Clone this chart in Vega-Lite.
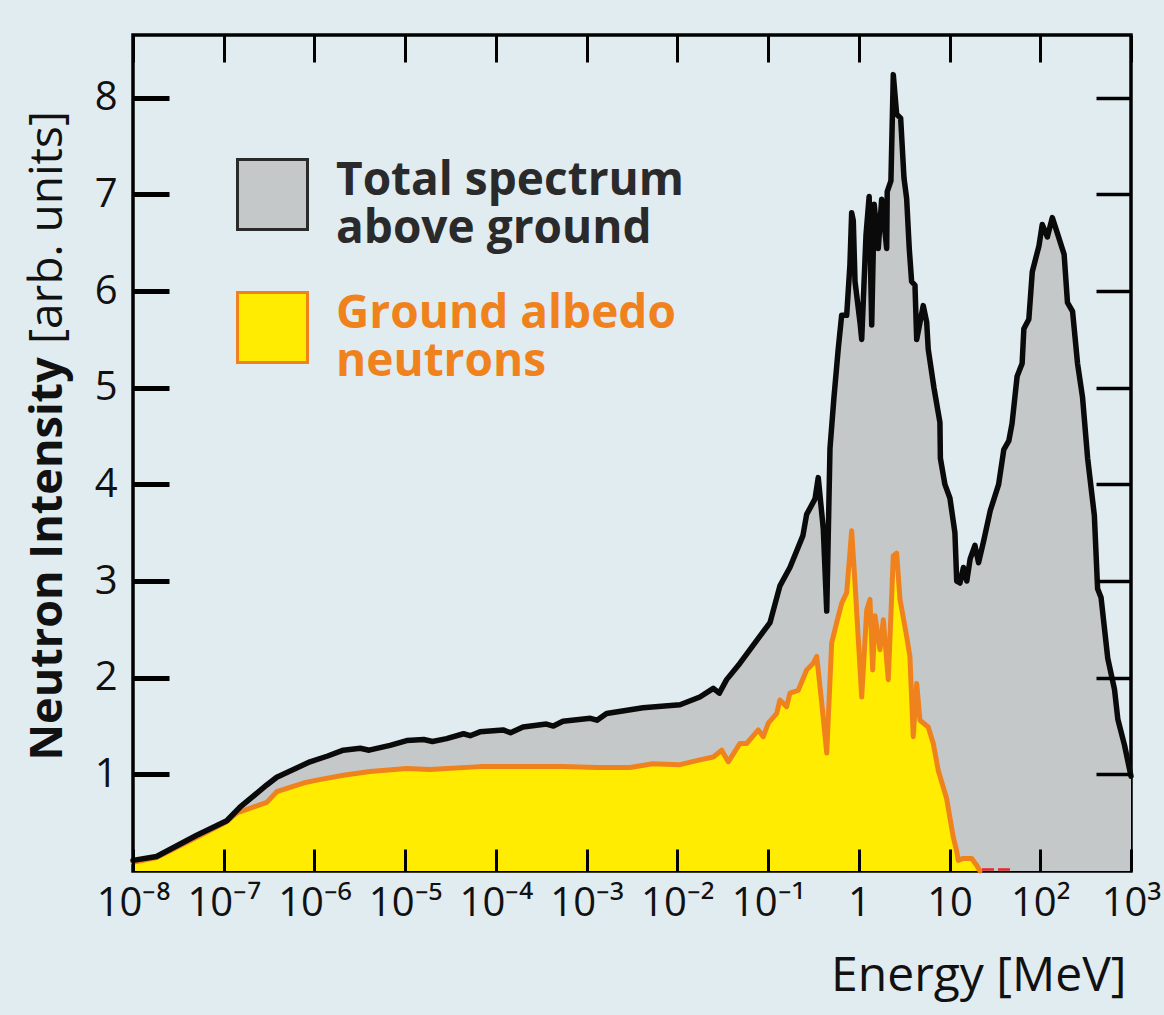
{
  "$schema": "https://vega.github.io/schema/vega-lite/v6.json",
  "width": 998,
  "height": 836,
  "autosize": {"type": "none"},
  "padding": {"left": 133, "top": 35, "right": 33, "bottom": 144},
  "background": "#e1ecf1",
  "config": {
    "font": "Open Sans",
    "view": {"stroke": "#000000", "strokeWidth": 3.5, "fill": null},
    "axis": {"grid": false, "domain": false}
  },
  "datasets": {
    "total": [
      {"E": 1e-8, "I": 0.11}, {"E": 1.82e-8, "I": 0.15}, {"E": 5.04e-8, "I": 0.37}, {"E": 1.08e-7, "I": 0.52},
      {"E": 1.51e-7, "I": 0.66}, {"E": 2.98e-7, "I": 0.89}, {"E": 3.84e-7, "I": 0.97}, {"E": 8.93e-7, "I": 1.13},
      {"E": 1.4e-6, "I": 1.19}, {"E": 2.08e-6, "I": 1.25}, {"E": 3.2e-6, "I": 1.27}, {"E": 4.0e-6, "I": 1.25},
      {"E": 6.81e-6, "I": 1.30}, {"E": 1.04e-5, "I": 1.35}, {"E": 1.6e-5, "I": 1.36}, {"E": 2.0e-5, "I": 1.34},
      {"E": 2.86e-5, "I": 1.37}, {"E": 4.4e-5, "I": 1.42}, {"E": 5.2e-5, "I": 1.40},
      {"E": 6.67e-5, "I": 1.44}, {"E": 1.2e-4, "I": 1.46}, {"E": 1.45e-4, "I": 1.43}, {"E": 1.99e-4, "I": 1.49},
      {"E": 3.6e-4, "I": 1.52}, {"E": 4.3e-4, "I": 1.50}, {"E": 5.48e-4, "I": 1.55},
      {"E": 1.1e-3, "I": 1.58}, {"E": 1.3e-3, "I": 1.56}, {"E": 1.66e-3, "I": 1.63},
      {"E": 4.18e-3, "I": 1.69}, {"E": 1.07e-2, "I": 1.72}, {"E": 1.77e-2, "I": 1.80}, {"E": 2.49e-2, "I": 1.89},
      {"E": 2.9e-2, "I": 1.84}, {"E": 3.49e-2, "I": 1.98}, {"E": 4.90e-2, "I": 2.15}, {"E": 8.13e-2, "I": 2.43}, {"E": 0.105, "I": 2.57},
      {"E": 0.135, "I": 2.95}, {"E": 0.174, "I": 3.14}, {"E": 0.242, "I": 3.47}, {"E": 0.266, "I": 3.69},
      {"E": 0.329, "I": 3.85}, {"E": 0.357, "I": 4.07}, {"E": 0.406, "I": 3.54}, {"E": 0.443, "I": 2.69},
      {"E": 0.481, "I": 4.37}, {"E": 0.532, "I": 4.9}, {"E": 0.593, "I": 5.40}, {"E": 0.647, "I": 5.75},
      {"E": 0.735, "I": 5.75}, {"E": 0.798, "I": 6.27}, {"E": 0.834, "I": 6.81}, {"E": 0.869, "I": 6.73},
      {"E": 0.908, "I": 6.10}, {"E": 1.03, "I": 5.68}, {"E": 1.076, "I": 5.50}, {"E": 1.20, "I": 6.58},
      {"E": 1.30, "I": 6.98}, {"E": 1.387, "I": 5.65}, {"E": 1.479, "I": 6.90}, {"E": 1.637, "I": 6.44},
      {"E": 1.786, "I": 6.95}, {"E": 2.028, "I": 6.44}, {"E": 2.056, "I": 7.03}, {"E": 2.259, "I": 7.14},
      {"E": 2.399, "I": 8.24}, {"E": 2.612, "I": 7.83}, {"E": 2.891, "I": 7.79}, {"E": 3.148, "I": 7.17},
      {"E": 3.365, "I": 6.96}, {"E": 3.597, "I": 6.44}, {"E": 3.819, "I": 6.10}, {"E": 4.159, "I": 6.06},
      {"E": 4.345, "I": 5.50}, {"E": 5.129, "I": 5.85}, {"E": 5.598, "I": 5.68}, {"E": 5.821, "I": 5.40},
      {"E": 6.730, "I": 5.0}, {"E": 7.834, "I": 4.64}, {"E": 7.925, "I": 4.27}, {"E": 8.892, "I": 4.0},
      {"E": 10.09, "I": 3.86}, {"E": 11.46, "I": 3.50}, {"E": 12.0, "I": 3.00}, {"E": 13.03, "I": 2.98},
      {"E": 14.22, "I": 3.14}, {"E": 15.49, "I": 3.00}, {"E": 16.87, "I": 3.23}, {"E": 19.05, "I": 3.37},
      {"E": 20.89, "I": 3.19}, {"E": 23.71, "I": 3.41}, {"E": 28.12, "I": 3.73}, {"E": 34.75, "I": 4.00},
      {"E": 39.63, "I": 4.36}, {"E": 44.98, "I": 4.45}, {"E": 48.87, "I": 4.63}, {"E": 55.59, "I": 5.12},
      {"E": 63.10, "I": 5.25}, {"E": 65.92, "I": 5.61}, {"E": 74.82, "I": 5.71}, {"E": 81.66, "I": 6.20},
      {"E": 96.83, "I": 6.47}, {"E": 105.2, "I": 6.69}, {"E": 119.7, "I": 6.56}, {"E": 135.8, "I": 6.76},
      {"E": 154.2, "I": 6.60}, {"E": 183.2, "I": 6.38}, {"E": 199.5, "I": 5.88}, {"E": 227.0, "I": 5.79},
      {"E": 257.6, "I": 5.25}, {"E": 292.4, "I": 4.90}, {"E": 332.7, "I": 4.27}, {"E": 394.5, "I": 3.68},
      {"E": 428.5, "I": 2.92}, {"E": 467.7, "I": 2.83}, {"E": 554.6, "I": 2.20}, {"E": 657.7, "I": 1.88},
      {"E": 716.1, "I": 1.57}, {"E": 849.2, "I": 1.30}, {"E": 1000, "I": 0.98}
    ],
    "albedo": [
      {"E": 1e-8, "I": 0.09}, {"E": 1.82e-8, "I": 0.14}, {"E": 5.04e-8, "I": 0.35}, {"E": 1.08e-7, "I": 0.51},
      {"E": 1.39e-7, "I": 0.60}, {"E": 2.98e-7, "I": 0.71}, {"E": 3.84e-7, "I": 0.82}, {"E": 7.53e-7, "I": 0.91},
      {"E": 1.06e-6, "I": 0.94}, {"E": 2.08e-6, "I": 0.99}, {"E": 4.09e-6, "I": 1.03}, {"E": 1.04e-5, "I": 1.06},
      {"E": 1.87e-5, "I": 1.05}, {"E": 6.67e-5, "I": 1.08}, {"E": 2.38e-4, "I": 1.08}, {"E": 5.48e-4, "I": 1.08},
      {"E": 1.29e-3, "I": 1.07}, {"E": 3.01e-3, "I": 1.07}, {"E": 5.35e-3, "I": 1.11}, {"E": 1.07e-2, "I": 1.10},
      {"E": 1.77e-2, "I": 1.15}, {"E": 2.49e-2, "I": 1.18}, {"E": 3.08e-2, "I": 1.25}, {"E": 3.64e-2, "I": 1.13},
      {"E": 4.90e-2, "I": 1.32}, {"E": 5.81e-2, "I": 1.32}, {"E": 7.80e-2, "I": 1.46}, {"E": 8.85e-2, "I": 1.39},
      {"E": 0.1005, "I": 1.53}, {"E": 0.1245, "I": 1.63}, {"E": 0.135, "I": 1.77}, {"E": 0.160, "I": 1.70},
      {"E": 0.174, "I": 1.84}, {"E": 0.215, "I": 1.87}, {"E": 0.266, "I": 2.08}, {"E": 0.315, "I": 2.15},
      {"E": 0.344, "I": 2.22}, {"E": 0.390, "I": 1.74}, {"E": 0.443, "I": 1.22}, {"E": 0.502, "I": 2.36},
      {"E": 0.570, "I": 2.57}, {"E": 0.647, "I": 2.77}, {"E": 0.735, "I": 2.88}, {"E": 0.834, "I": 3.52},
      {"E": 0.908, "I": 2.98}, {"E": 1.076, "I": 1.80}, {"E": 1.222, "I": 2.70}, {"E": 1.327, "I": 2.81},
      {"E": 1.422, "I": 2.08}, {"E": 1.507, "I": 2.64}, {"E": 1.710, "I": 2.29}, {"E": 1.862, "I": 2.60},
      {"E": 2.113, "I": 1.98}, {"E": 2.399, "I": 3.26}, {"E": 2.612, "I": 3.29}, {"E": 2.844, "I": 2.81},
      {"E": 3.365, "I": 2.43}, {"E": 3.656, "I": 2.22}, {"E": 3.981, "I": 1.39}, {"E": 4.345, "I": 1.94},
      {"E": 4.721, "I": 1.56}, {"E": 5.821, "I": 1.49}, {"E": 6.622, "I": 1.32}, {"E": 7.516, "I": 1.04},
      {"E": 9.290, "I": 0.75}, {"E": 10.99, "I": 0.35}, {"E": 11.97, "I": 0.21}, {"E": 12.47, "I": 0.11},
      {"E": 14.16, "I": 0.13}, {"E": 17.54, "I": 0.13}, {"E": 19.91, "I": 0.06}, {"E": 21.63, "I": 0.0}
    ],
    "red": [
      {"E": 22.8, "I": 0.015}, {"E": 48.7, "I": 0.015}
    ]
  },
  "layer": [
    {
      "data": {"name": "total"},
      "mark": {"type": "area", "opacity": 1, "interpolate": "linear"},
      "encoding": {
        "x": {
          "field": "E", "type": "quantitative",
          "scale": {"type": "log", "domain": [1e-8, 1000], "nice": false},
          "axis": {
            "orient": "bottom",
            "values": [1e-8, 1e-7, 1e-6, 1e-5, 1e-4, 1e-3, 1e-2, 1e-1, 1, 10, 100, 1000],
            "ticks": false,
            "labelExpr": "['10⁻⁸','10⁻⁷','10⁻⁶','10⁻⁵','10⁻⁴','10⁻³','10⁻²','10⁻¹','1','10','10²','10³'][round(log(datum.value)/LN10)+8]",
            "labelFontSize": 40, "labelColor": "#111111", "labelPadding": 12,
            "labelFlush": false, "labelOverlap": false, "labelBound": false,
            "title": "Energy [MeV]", "titleFontSize": 48, "titleFontWeight": "normal", "titleColor": "#111111",
            "titleAlign": "right", "titleBaseline": "alphabetic", "titleX": 993, "titleY": 119
          }
        },
        "y": {
          "field": "I", "type": "quantitative", "stack": null,
          "scale": {"domain": [0, 8.65], "nice": false, "zero": true},
          "axis": {
            "orient": "left",
            "values": [1, 2, 3, 4, 5, 6, 7, 8],
            "ticks": false,
            "labelFontSize": 40, "labelColor": "#111111", "labelPadding": 16,
            "title": "Neutron Intensity", "titleFontSize": 45, "titleFontWeight": "bold", "titleColor": "#111111",
            "titleAngle": -90, "titleAlign": "left", "titleBaseline": "alphabetic", "titleX": -72, "titleY": 725
          }
        },
        "fill": {
          "datum": "Total spectrum above ground",
          "scale": {"domain": ["Total spectrum above ground"], "range": ["#c5c8c9"]},
          "legend": {
            "orient": "none", "legendX": 103, "legendY": 123, "title": null, "padding": 0,
            "symbolType": "square", "symbolSize": 4900, "symbolStrokeColor": "#2a2a2a", "symbolStrokeWidth": 3,
            "symbolFillColor": "#c5c8c9",
            "labelFontSize": 46, "labelFontWeight": "bold", "labelColor": "#2b2a2b", "labelOffset": 27, "labelLimit": 800,
            "labelBaseline": "alphabetic",
            "labelExpr": "['Total spectrum', 'above ground']"
          }
        }
      }
    },
    {
      "data": {"name": "albedo"},
      "mark": {"type": "area", "opacity": 1, "interpolate": "linear"},
      "encoding": {
        "x": {
          "field": "E", "type": "quantitative",
          "scale": {"type": "log", "domain": [1e-8, 1000], "nice": false},
          "axis": {
            "orient": "top", "values": [1e-8, 1e-7, 1e-6, 1e-5, 1e-4, 1e-3, 1e-2, 1e-1, 1, 10, 100, 1000],
            "labels": false, "tickSize": -27, "tickWidth": 3, "tickColor": "#000000", "title": null, "zindex": 2
          }
        },
        "y": {
          "field": "I", "type": "quantitative", "stack": null,
          "scale": {"domain": [0, 8.65], "nice": false, "zero": true},
          "axis": {
            "orient": "right", "values": [1, 2, 3, 4, 5, 6, 7, 8],
            "labels": false, "tickSize": -35, "tickWidth": 3.5, "tickColor": "#000000", "zindex": 2,
            "title": "[arb. units]", "titleFontSize": 46, "titleFontWeight": "normal", "titleColor": "#111111",
            "titleAngle": -90, "titleAlign": "center", "titleBaseline": "alphabetic", "titleX": -1070, "titleY": 192
          }
        },
        "fill": {
          "datum": "Ground albedo neutrons",
          "scale": {"domain": ["Ground albedo neutrons"], "range": ["#ffec00"]},
          "legend": {
            "orient": "none", "legendX": 103, "legendY": 256, "title": null, "padding": 0,
            "symbolType": "square", "symbolSize": 4900, "symbolStrokeColor": "#f0821e", "symbolStrokeWidth": 3,
            "symbolFillColor": "#ffec00",
            "labelFontSize": 46, "labelFontWeight": "bold", "labelColor": "#f0821e", "labelOffset": 27, "labelLimit": 800,
            "labelBaseline": "alphabetic",
            "labelExpr": "['Ground albedo', 'neutrons']"
          }
        }
      }
    },
    {
      "data": {"name": "albedo"},
      "mark": {"type": "line", "color": "#f0821e", "strokeWidth": 5, "strokeJoin": "round", "strokeCap": "round"},
      "encoding": {
        "x": {
          "field": "E", "type": "quantitative",
          "scale": {"type": "log", "domain": [1e-8, 1000], "nice": false},
          "axis": {
            "orient": "bottom", "values": [1e-8, 1e-7, 1e-6, 1e-5, 1e-4, 1e-3, 1e-2, 1e-1, 1, 10, 100, 1000],
            "labels": false, "tickSize": -22, "tickWidth": 3, "tickColor": "#000000", "title": null, "zindex": 2
          }
        },
        "y": {
          "field": "I", "type": "quantitative",
          "scale": {"domain": [0, 8.65], "nice": false, "zero": true},
          "axis": {
            "orient": "left", "values": [1, 2, 3, 4, 5, 6, 7, 8],
            "labels": false, "tickSize": -36, "tickWidth": 5, "tickColor": "#000000", "title": null, "zindex": 2
          }
        }
      }
    },
    {
      "data": {"name": "total"},
      "mark": {"type": "line", "color": "#0a0a0a", "strokeWidth": 5.5, "strokeJoin": "round", "strokeCap": "round"},
      "encoding": {
        "x": {"field": "E", "type": "quantitative", "scale": {"type": "log", "domain": [1e-8, 1000], "nice": false}, "axis": null},
        "y": {"field": "I", "type": "quantitative", "scale": {"domain": [0, 8.65], "nice": false, "zero": true}, "axis": null}
      }
    },
    {
      "data": {"name": "red"},
      "mark": {"type": "line", "color": "#e8262b", "strokeWidth": 2.5, "strokeDash": [12, 4]},
      "encoding": {
        "x": {"field": "E", "type": "quantitative", "scale": {"type": "log", "domain": [1e-8, 1000], "nice": false}, "axis": null},
        "y": {"field": "I", "type": "quantitative", "scale": {"domain": [0, 8.65], "nice": false, "zero": true}, "axis": null}
      }
    }
  ],
  "resolve": {
    "scale": {"fill": "independent"},
    "legend": {"fill": "independent"},
    "axis": {"x": "independent", "y": "independent"}
  }
}
